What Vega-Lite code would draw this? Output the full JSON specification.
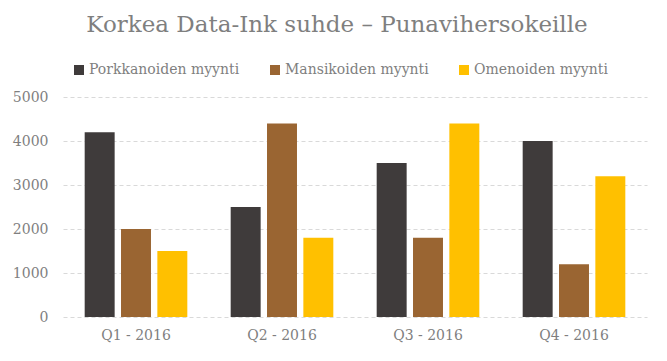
{
  "$schema": "https://vega.github.io/schema/vega-lite/v6.json",
  "autosize": "none",
  "width": 584,
  "height": 220,
  "padding": {"left": 63, "top": 97, "right": 20, "bottom": 44},
  "background": "white",
  "title": {
    "text": "Korkea Data-Ink suhde – Punavihersokeille",
    "font": "DejaVu Serif",
    "fontSize": 23,
    "fontWeight": "normal",
    "color": "#7f7f7f",
    "anchor": "middle",
    "dx": -18,
    "offset": 26
  },
  "data": {
    "values": [
      {"q": "Q1 - 2016", "s": "Porkkanoiden myynti", "v": 4200},
      {"q": "Q1 - 2016", "s": "Mansikoiden myynti", "v": 2000},
      {"q": "Q1 - 2016", "s": "Omenoiden myynti", "v": 1500},
      {"q": "Q2 - 2016", "s": "Porkkanoiden myynti", "v": 2500},
      {"q": "Q2 - 2016", "s": "Mansikoiden myynti", "v": 4400},
      {"q": "Q2 - 2016", "s": "Omenoiden myynti", "v": 1800},
      {"q": "Q3 - 2016", "s": "Porkkanoiden myynti", "v": 3500},
      {"q": "Q3 - 2016", "s": "Mansikoiden myynti", "v": 1800},
      {"q": "Q3 - 2016", "s": "Omenoiden myynti", "v": 4400},
      {"q": "Q4 - 2016", "s": "Porkkanoiden myynti", "v": 4000},
      {"q": "Q4 - 2016", "s": "Mansikoiden myynti", "v": 1200},
      {"q": "Q4 - 2016", "s": "Omenoiden myynti", "v": 3200}
    ]
  },
  "mark": {"type": "bar"},
  "encoding": {
    "x": {
      "field": "q", "type": "nominal", "sort": null,
      "scale": {"paddingInner": 0.297, "paddingOuter": 0.1485},
      "axis": {
        "title": null, "labelAngle": 0, "domain": false, "ticks": false,
        "labelFont": "DejaVu Serif", "labelFontSize": 14, "labelColor": "#7f7f7f",
        "labelPadding": 11
      }
    },
    "xOffset": {
      "field": "s", "type": "nominal",
      "sort": ["Porkkanoiden myynti", "Mansikoiden myynti", "Omenoiden myynti"],
      "scale": {"paddingInner": 0.175, "paddingOuter": 0}
    },
    "y": {
      "field": "v", "type": "quantitative",
      "scale": {"domain": [0, 5000], "nice": false},
      "axis": {
        "title": null, "values": [0, 1000, 2000, 3000, 4000, 5000], "format": "d",
        "domain": false, "ticks": false,
        "labelFont": "DejaVu Serif", "labelFontSize": 14, "labelColor": "#7f7f7f",
        "labelPadding": 15,
        "grid": true, "gridColor": "#d9d9d9", "gridDash": [4, 3], "gridWidth": 1
      }
    },
    "color": {
      "field": "s", "type": "nominal",
      "sort": ["Porkkanoiden myynti", "Mansikoiden myynti", "Omenoiden myynti"],
      "scale": {
        "domain": ["Porkkanoiden myynti", "Mansikoiden myynti", "Omenoiden myynti"],
        "range": ["#3f3b3b", "#9a6532", "#ffc000"]
      },
      "legend": {
        "title": null,
        "orient": "none",
        "direction": "horizontal",
        "legendX": 9,
        "legendY": -34,
        "symbolType": "square",
        "symbolSize": 100,
        "symbolStrokeWidth": 0,
        "labelFont": "DejaVu Serif",
        "labelFontSize": 14,
        "labelColor": "#7f7f7f",
        "labelOffset": 3,
        "columnPadding": 28,
        "labelLimit": 300
      }
    }
  },
  "config": {"view": {"stroke": null}}
}
